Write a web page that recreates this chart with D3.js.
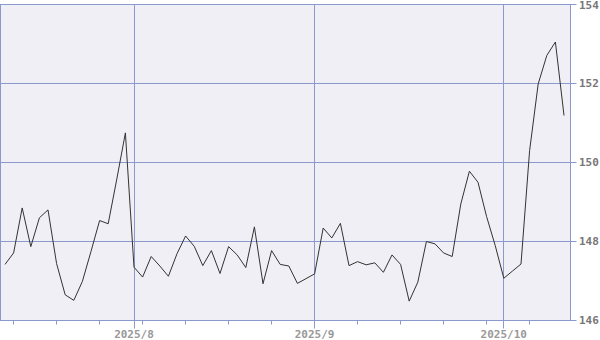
<!DOCTYPE html>
<html>
<head>
<meta charset="utf-8">
<script src="https://cdn.jsdelivr.net/npm/d3@7"></script>
<style>
  body { margin: 0; background: #fff; }
  svg text { font-family: 'DejaVu Sans Mono', monospace; font-weight: bold; }
</style>
</head>
<body>
<div id="chart"></div>
<script>
// trading days, 2025/7/11 .. 2025/10/10
const dates = [
  '2025-07-11',
  '2025-07-14', '2025-07-15', '2025-07-16', '2025-07-17', '2025-07-18',
  '2025-07-21', '2025-07-22', '2025-07-23', '2025-07-24', '2025-07-25',
  '2025-07-28', '2025-07-29', '2025-07-30', '2025-07-31', '2025-08-01',
  '2025-08-04', '2025-08-05', '2025-08-06', '2025-08-07', '2025-08-08',
  '2025-08-11', '2025-08-12', '2025-08-13', '2025-08-14', '2025-08-15',
  '2025-08-18', '2025-08-19', '2025-08-20', '2025-08-21', '2025-08-22',
  '2025-08-25', '2025-08-26', '2025-08-27', '2025-08-28', '2025-08-29',
  '2025-09-01', '2025-09-02', '2025-09-03', '2025-09-04', '2025-09-05',
  '2025-09-08', '2025-09-09', '2025-09-10', '2025-09-11', '2025-09-12',
  '2025-09-15', '2025-09-16', '2025-09-17', '2025-09-18', '2025-09-19',
  '2025-09-22', '2025-09-23', '2025-09-24', '2025-09-25', '2025-09-26',
  '2025-09-29', '2025-09-30', '2025-10-01', '2025-10-02', '2025-10-03',
  '2025-10-06', '2025-10-07', '2025-10-08', '2025-10-09', '2025-10-10',
];
const closes = [
  147.42,
  147.71, 148.85, 147.87, 148.60, 148.80,
  147.44, 146.65, 146.51, 146.99, 147.75,
  148.53, 148.45, 149.58, 150.75, 147.35,
  147.10, 147.62, 147.38, 147.12, 147.69,
  148.14, 147.88, 147.39, 147.77, 147.19,
  147.87, 147.66, 147.34, 148.37, 146.93,
  147.77, 147.42, 147.38, 146.94, 147.06,
  147.18, 148.34, 148.09, 148.46, 147.39,
  147.49, 147.41, 147.46, 147.22, 147.66,
  147.42, 146.49, 146.97, 148.00, 147.94,
  147.71, 147.62, 148.95, 149.78, 149.50,
  148.63, 147.90, 147.07, 147.25, 147.43,
  150.30, 151.99, 152.71, 153.05, 151.19,
];
const y_ticks = [146, 148, 150, 152, 154];

const WIDTH = 600;
const HEIGHT = 340;
const PLOT = { left: 0.5, top: 4.5, right: 570.5, bottom: 320.5 };
const GRID_COLOR = '#8c99cc';
const BG_COLOR = '#efeff5';

let parse = d3.timeParse('%Y-%m-%d');
let days = dates.map(parse);

let x = d3.scaleLinear()
  .domain([0, dates.length - 1])
  .range([5, 564]);
let y = d3.scaleLinear()
  .domain([146, 154])
  .range([PLOT.bottom, PLOT.top]);

// first trading day of each month, and mondays for the small ticks
let month_idx = days.map((d, i) => i)
  .filter((i) => i > 0 && days[i].getMonth() != days[i - 1].getMonth());
let week_idx = days.map((d, i) => i)
  .filter((i) => days[i].getDay() == 1 && month_idx.indexOf(i) < 0);

let svg = d3.select('#chart').append('svg')
  .attr('width', WIDTH)
  .attr('height', HEIGHT);

svg.append('rect')
  .attr('x', PLOT.left)
  .attr('y', PLOT.top)
  .attr('width', PLOT.right - PLOT.left)
  .attr('height', PLOT.bottom - PLOT.top)
  .attr('fill', BG_COLOR)
  .attr('stroke', GRID_COLOR);

// horizontal grid
svg.append('g')
  .selectAll('line')
  .data(y_ticks)
  .enter().append('line')
  .attr('x1', PLOT.left)
  .attr('x2', PLOT.right + 6)
  .attr('y1', (d) => Math.round(y(d) - 0.5) + 0.5)
  .attr('y2', (d) => Math.round(y(d) - 0.5) + 0.5)
  .attr('stroke', GRID_COLOR);

// month grid
svg.append('g')
  .selectAll('line')
  .data(month_idx)
  .enter().append('line')
  .attr('x1', (i) => Math.round(x(i) - 0.5) + 0.5)
  .attr('x2', (i) => Math.round(x(i) - 0.5) + 0.5)
  .attr('y1', PLOT.top)
  .attr('y2', PLOT.bottom + 8)
  .attr('stroke', GRID_COLOR);

// weekly ticks
svg.append('g')
  .selectAll('line')
  .data(week_idx)
  .enter().append('line')
  .attr('x1', (i) => Math.round(x(i) - 0.5) + 0.5)
  .attr('x2', (i) => Math.round(x(i) - 0.5) + 0.5)
  .attr('y1', PLOT.bottom)
  .attr('y2', PLOT.bottom + 4)
  .attr('stroke', GRID_COLOR);

// top label would be cut by the window edge, keep it just inside
svg.append('g')
  .selectAll('text')
  .data(y_ticks)
  .enter().append('text')
  .attr('x', 579)
  .attr('y', (d) => Math.max(y(d), 5.5))
  .attr('dy', '0.36em')
  .attr('font-size', '11px')
  .attr('fill', '#777')
  .text((d) => d);

let month_fmt = d3.timeFormat('%Y/%-m');
svg.append('g')
  .selectAll('text')
  .data(month_idx)
  .enter().append('text')
  .attr('x', (i) => x(i))
  .attr('y', 338)
  .attr('text-anchor', 'middle')
  .attr('font-size', '11px')
  .attr('fill', '#999')
  .text((i) => month_fmt(days[i]));

let line = d3.line()
  .x((d, i) => x(i))
  .y((d) => y(d));

svg.append('path')
  .datum(closes)
  .attr('d', line)
  .attr('fill', 'none')
  .attr('stroke', '#333')
  .attr('stroke-width', 1);
</script>
</body>
</html>
